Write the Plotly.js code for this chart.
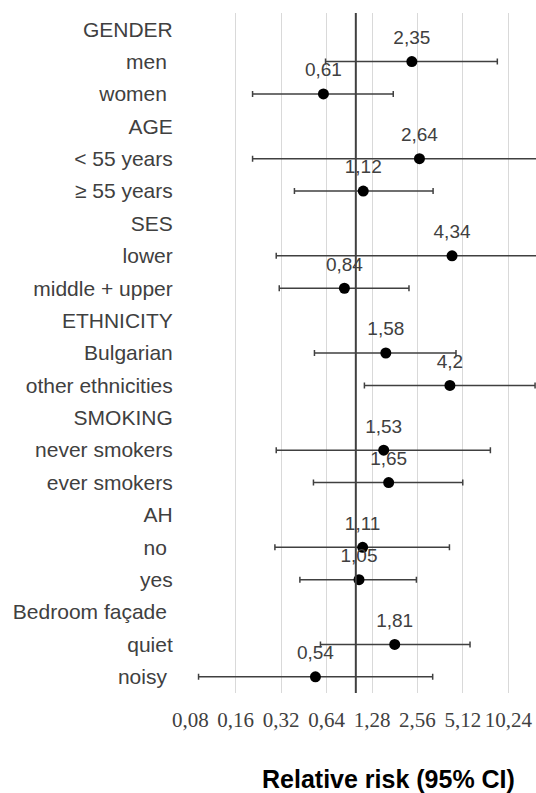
<!DOCTYPE html>
<html>
<head>
<meta charset="utf-8">
<script src="https://cdn.plot.ly/plotly-3.0.1.min.js"></script>
<style>html,body{margin:0;padding:0;background:#fff;}#chart{width:536px;height:793px;}</style>
</head>
<body>
<div id="chart"></div>
<script>
// Row labels (top to bottom)
var rowLabels = ["GENDER", "men\u00a0", "women\u00a0", "AGE", "< 55 years", "\u2265 55 years",
  "SES", "lower", "middle + upper", "ETHNICITY", "Bulgarian", "other ethnicities",
  "SMOKING", "never smokers", "ever smokers", "AH", "no\u00a0", "yes",
  "Bedroom fa\u00e7ade\u00a0", "quiet", "noisy\u00a0"];

// Rows that carry an estimate
var groups = ["men\u00a0", "women\u00a0", "< 55 years", "\u2265 55 years", "lower", "middle + upper",
  "Bulgarian", "other ethnicities", "never smokers", "ever smokers", "no\u00a0", "yes",
  "quiet", "noisy\u00a0"];
var rr    = [2.35, 0.61, 2.64, 1.12, 4.34, 0.84, 1.58, 4.2, 1.53, 1.65, 1.11, 1.05, 1.81, 0.54];
var lower = [0.63, 0.207, 0.207, 0.392, 0.297, 0.311, 0.532, 1.14, 0.297, 0.524, 0.291, 0.426, 0.583, 0.0908];
var upper = [8.66, 1.77, 20.0, 3.25, 25.0, 2.25, 4.61, 15.4, 7.79, 5.11, 4.17, 2.52, 5.71, 3.23];

// X axis ticks
var tickVals = [0.08, 0.16, 0.32, 0.64, 1.28, 2.56, 5.12, 10.24];
var tickText = ["0,08", "0,16", "0,32", "0,64", "1,28", "2,56", "5,12", "10,24"];

var refValue = 1;

var plus = rr.map(function(v, i){ return upper[i] - v; });
var minus = rr.map(function(v, i){ return v - lower[i]; });
var labels = rr.map(function(v){ return String(v).replace('.', ','); });

var ciTrace = {
  type: 'scatter',
  mode: 'markers',
  x: rr,
  y: groups,
  marker: {color: '#000000', size: 11},
  error_x: {
    type: 'data', symmetric: false, array: plus, arrayminus: minus,
    color: '#404040', thickness: 1.5, width: 3
  },
  hoverinfo: 'skip',
  showlegend: false
};

// value labels above the points (invisible larger marker sets the text offset)
var labelTrace = {
  type: 'scatter',
  mode: 'markers+text',
  x: rr,
  y: groups,
  text: labels,
  textposition: 'top center',
  textfont: {family: 'Liberation Sans, Arial, sans-serif', size: 19, color: '#404040'},
  cliponaxis: false,
  marker: {color: 'rgba(0,0,0,0)', size: 19},
  hoverinfo: 'skip',
  showlegend: false
};

var layout = {
  width: 536, height: 793,
  margin: {l: 190, r: 0, t: 13, b: 100},
  paper_bgcolor: '#ffffff', plot_bgcolor: '#ffffff',
  xaxis: {
    type: 'log',
    range: [Math.log10(0.0797), Math.log10(15.62)],
    tickvals: tickVals, ticktext: tickText,
    showgrid: true, gridcolor: '#d9d9d9', gridwidth: 1,
    zeroline: false, showline: false,
    ticks: 'outside', ticklen: 8, tickcolor: 'rgba(0,0,0,0)',
    tickfont: {family: 'Liberation Serif, Times New Roman, serif', size: 21, color: '#404040'}
  },
  yaxis: {
    type: 'category',
    categoryorder: 'array', categoryarray: rowLabels,
    tickvals: rowLabels,
    range: [rowLabels.length - 0.5, -0.5],
    showgrid: false, zeroline: false, showline: false,
    ticks: 'outside', ticklen: 12, tickcolor: 'rgba(0,0,0,0)',
    tickfont: {family: 'Liberation Sans, Arial, sans-serif', size: 21, color: '#404040'}
  },
  shapes: [{
    type: 'line', xref: 'x', yref: 'paper',
    x0: refValue, x1: refValue, y0: 0, y1: 1,
    line: {color: '#404040', width: 2}
  }],
  annotations: [{
    text: '<b>Relative risk (95% CI)</b>',
    xref: 'paper', yref: 'paper', x: 0.575, y: -0.126,
    xanchor: 'center', yanchor: 'middle', showarrow: false,
    font: {family: 'Liberation Sans, Arial, sans-serif', size: 25, color: '#000000'}
  }]
};

Plotly.newPlot('chart', [ciTrace, labelTrace], layout, {displayModeBar: false, staticPlot: true});
</script>
</body>
</html>
